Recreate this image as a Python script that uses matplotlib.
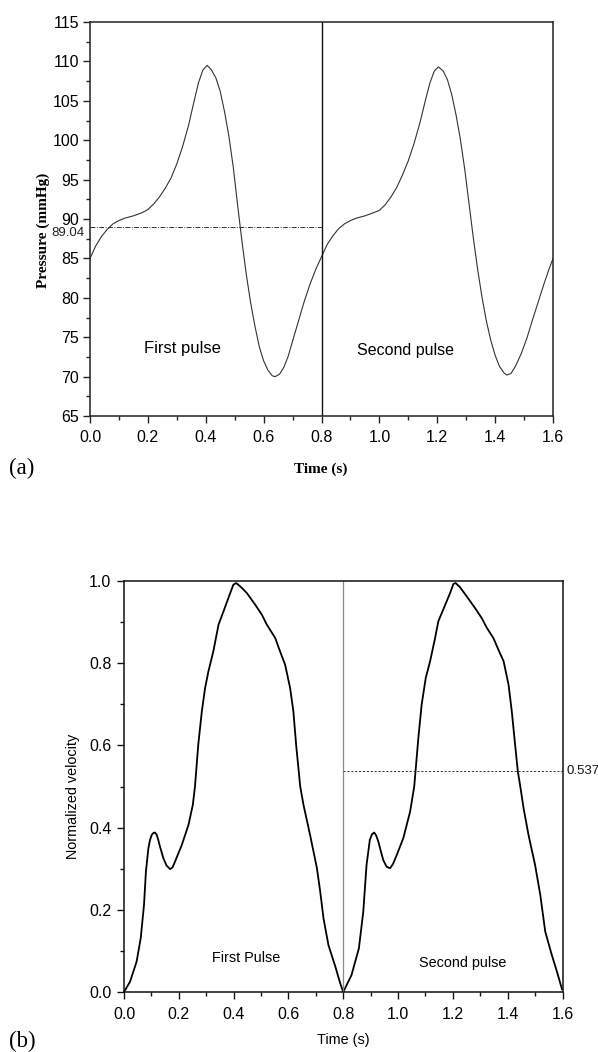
import matplotlib
matplotlib.use("Agg")
import matplotlib.pyplot as plt
from matplotlib import font_manager
from matplotlib.ticker import MultipleLocator, FormatStrFormatter
import matplotlib.transforms as mtransforms

# ---------------- DATA ----------------
# (a) pressure waveform, first and second pulse
press_t1 = [0.000, 0.020, 0.040, 0.060, 0.080, 0.100, 0.120, 0.150, 0.180, 0.200,
            0.220, 0.240, 0.260, 0.280, 0.300, 0.320, 0.340, 0.360, 0.375, 0.390,
            0.405, 0.420, 0.435, 0.450, 0.465, 0.480, 0.495, 0.510, 0.525, 0.540,
            0.555, 0.570, 0.585, 0.600, 0.615, 0.630, 0.640, 0.655, 0.670, 0.685,
            0.700, 0.720, 0.740, 0.760, 0.780, 0.800]
press_p1 = [85.0, 86.6, 87.8, 88.7, 89.4, 89.8, 90.1, 90.4, 90.8, 91.2,
            91.9, 92.8, 93.9, 95.2, 97.0, 99.2, 101.8, 105.0, 107.3, 108.9,
            109.5, 108.9, 107.9, 106.2, 103.6, 100.5, 96.6, 91.8, 87.2, 83.0,
            79.4, 76.4, 73.8, 72.0, 70.8, 70.1, 70.0, 70.3, 71.2, 72.6,
            74.5, 77.0, 79.5, 81.7, 83.6, 85.2]
press_t2 = [0.800, 0.820, 0.840, 0.860, 0.880, 0.900, 0.920, 0.950, 0.980, 1.000,
            1.020, 1.040, 1.060, 1.080, 1.100, 1.120, 1.140, 1.160, 1.175, 1.190,
            1.204, 1.220, 1.235, 1.250, 1.265, 1.280, 1.295, 1.310, 1.325, 1.340,
            1.355, 1.370, 1.385, 1.400, 1.415, 1.430, 1.440, 1.455, 1.470, 1.490,
            1.510, 1.530, 1.550, 1.570, 1.585, 1.600]
press_p2 = [85.2, 86.8, 87.9, 88.8, 89.4, 89.8, 90.1, 90.4, 90.8, 91.1,
            91.8, 92.8, 94.0, 95.6, 97.4, 99.6, 102.2, 105.2, 107.3, 108.8,
            109.3, 108.8, 107.7, 105.8, 103.2, 100.1, 96.3, 91.9, 87.5, 83.5,
            80.0, 77.0, 74.6, 72.7, 71.3, 70.5, 70.2, 70.4, 71.3, 72.9,
            74.9, 77.3, 79.6, 81.9, 83.5, 85.0]
press_mean = 89.04

# (b) normalized velocity waveform
vel_t1 = [0.000, 0.022, 0.046, 0.061, 0.073, 0.080, 0.089, 0.095, 0.101, 0.107,
          0.113, 0.119, 0.125, 0.132, 0.144, 0.155, 0.168, 0.177, 0.186, 0.211,
          0.235, 0.251, 0.259, 0.271, 0.284, 0.296, 0.308, 0.326, 0.345, 0.363,
          0.381, 0.399, 0.409, 0.424, 0.448, 0.479, 0.503, 0.521, 0.552, 0.567,
          0.588, 0.606, 0.618, 0.628, 0.643, 0.655, 0.679, 0.704, 0.716, 0.728,
          0.746, 0.771, 0.789, 0.800]
vel_v1 = [0.000, 0.025, 0.074, 0.131, 0.212, 0.293, 0.350, 0.370, 0.382, 0.387,
          0.388, 0.383, 0.370, 0.352, 0.325, 0.308, 0.299, 0.303, 0.317, 0.358,
          0.406, 0.455, 0.500, 0.602, 0.683, 0.740, 0.780, 0.829, 0.894, 0.926,
          0.959, 0.991, 0.995, 0.987, 0.971, 0.942, 0.918, 0.894, 0.861, 0.833,
          0.796, 0.740, 0.683, 0.602, 0.500, 0.455, 0.382, 0.301, 0.244, 0.179,
          0.114, 0.062, 0.021, 0.000]
vel_t2 = [0.800, 0.830, 0.857, 0.873, 0.885, 0.897, 0.905, 0.913, 0.920, 0.928,
          0.937, 0.946, 0.958, 0.971, 0.982, 0.995, 1.019, 1.044, 1.059, 1.074,
          1.086, 1.101, 1.117, 1.135, 1.147, 1.172, 1.190, 1.202, 1.210, 1.226,
          1.250, 1.281, 1.305, 1.324, 1.348, 1.366, 1.385, 1.403, 1.415, 1.427,
          1.437, 1.446, 1.458, 1.476, 1.500, 1.519, 1.537, 1.561, 1.580, 1.598]
vel_v2 = [0.000, 0.041, 0.106, 0.195, 0.309, 0.370, 0.384, 0.388, 0.381, 0.366,
          0.343, 0.321, 0.305, 0.301, 0.312, 0.333, 0.374, 0.439, 0.500, 0.618,
          0.699, 0.764, 0.805, 0.861, 0.902, 0.942, 0.971, 0.993, 0.995, 0.985,
          0.963, 0.934, 0.910, 0.886, 0.861, 0.833, 0.805, 0.748, 0.683, 0.602,
          0.537, 0.500, 0.447, 0.382, 0.309, 0.236, 0.147, 0.090, 0.049, 0.007]
vel_level = 0.537

pulse_split = 0.8
press_yticks = list(range(65, 116, 5))
vel_yticks = [0.0, 0.2, 0.4, 0.6, 0.8, 1.0]
time_xticks = [0.0, 0.2, 0.4, 0.6, 0.8, 1.0, 1.2, 1.4, 1.6]

# ---------------- FONTS ----------------
names = {f.name for f in font_manager.fontManager.ttflist}
SANS = "Liberation Sans" if "Liberation Sans" in names else "DejaVu Sans"
SERIF = "Liberation Serif" if "Liberation Serif" in names else "DejaVu Serif"
if "Liberation Sans Narrow" in names:
    NARROW, nscale = "Liberation Sans Narrow", 1.0
else:
    NARROW, nscale = SANS, 0.9
plt.rcParams["font.family"] = SANS
plt.rcParams["lines.solid_joinstyle"] = "round"

W, H = 598, 1052
fig = plt.figure(figsize=(W / 100, H / 100), dpi=100)

def frac_axes(l, r, t, b):
    return fig.add_axes([l / W, 1 - b / H, (r - l) / W, (b - t) / H])

def style_axes(ax, lw, col):
    for s in ax.spines.values():
        s.set_linewidth(lw)
        s.set_color(col)
    ax.tick_params(which="both", direction="out", top=False, right=False,
                   color=col, width=lw * 0.9)
    ax.tick_params(which="major", length=5)
    ax.tick_params(which="minor", length=2.6)

# ---------------- (a) ----------------
ax1 = frac_axes(90, 553, 22, 416)
ax1.plot(press_t1, press_p1, color="#333333", lw=0.8)
ax1.plot(press_t2, press_p2, color="#333333", lw=0.8)
ax1.axvline(pulse_split, color="#111111", lw=1.0)
ax1.plot([0, pulse_split], [press_mean, press_mean], color="#333333", lw=0.7,
         linestyle=(0, (5, 1.5, 1, 1.5)))
ax1.set_xlim(0, 1.6)
ax1.set_ylim(65, 115)
ax1.set_xticks(time_xticks)
ax1.set_yticks(press_yticks)
ax1.xaxis.set_minor_locator(MultipleLocator(0.1))
ax1.yaxis.set_minor_locator(MultipleLocator(2.5))
ax1.xaxis.set_major_formatter(FormatStrFormatter("%.1f"))
style_axes(ax1, 1.1, "#222222")
ax1.tick_params(which="major", labelsize=11.5, pad=3)
ax1.tick_params(axis="x", which="major", pad=5)
ax1.set_ylabel("Pressure (mmHg)", family=SERIF, fontweight="bold", fontsize=11)
ax1.yaxis.set_label_coords(-0.087, 0.472)
ax1.set_xlabel("Time (s)", family=SERIF, fontweight="bold", fontsize=11)
ax1.xaxis.set_label_coords(0.498, -0.117)
tr1 = mtransforms.blended_transform_factory(ax1.transAxes, ax1.transData)
ax1.text(-0.011, press_mean, "89.04", transform=tr1, ha="right", va="top",
         fontsize=9.5, color="#222222")
ax1.text(0.32, 73.6, "First pulse", ha="center", va="center", fontsize=12)
ax1.text(1.089, 73.3, "Second pulse", ha="center", va="center", fontsize=11.5)
fig.text(9 / W, 1 - 468 / H, "(a)", family=SERIF, fontsize=16.5,
         ha="left", va="center")

# ---------------- (b) ----------------
ax2 = frac_axes(124, 562.5, 581, 992)
ax2.plot(vel_t1, vel_v1, color="black", lw=1.3)
ax2.plot(vel_t2, vel_v2, color="black", lw=1.3)
ax2.axvline(pulse_split, color="#8a8a8a", lw=0.9)
ax2.plot([pulse_split, 1.6], [vel_level, vel_level], color="#333333", lw=0.7,
         linestyle=(0, (2.2, 1.8)))
ax2.set_xlim(0, 1.6)
ax2.set_ylim(0, 1.0)
ax2.set_xticks(time_xticks)
ax2.set_yticks(vel_yticks)
ax2.xaxis.set_minor_locator(MultipleLocator(0.1))
ax2.yaxis.set_minor_locator(MultipleLocator(0.1))
ax2.xaxis.set_major_formatter(FormatStrFormatter("%.1f"))
ax2.yaxis.set_major_formatter(FormatStrFormatter("%.1f"))
style_axes(ax2, 1.1, "#111111")
ax2.tick_params(which="major", labelsize=11.5, pad=4)
ax2.tick_params(axis="x", which="major", pad=6)
ax2.set_ylabel("Normalized velocity", family=NARROW, fontsize=11.5 * nscale)
ax2.yaxis.set_label_coords(-0.100, 0.476)
ax2.set_xlabel("Time (s)", family=NARROW, fontsize=11.5 * nscale)
ax2.xaxis.set_label_coords(0.5, -0.100)
tr2 = mtransforms.blended_transform_factory(ax2.transAxes, ax2.transData)
ax2.text(1.01, vel_level, "0.537", transform=tr2, ha="left", va="center",
         fontsize=9.5, color="#111111")
ax2.text(0.444, 0.083, "First Pulse", ha="center", va="center",
         family=NARROW, fontsize=11.5 * nscale)
ax2.text(1.237, 0.071, "Second pulse", ha="center", va="center",
         family=NARROW, fontsize=11.5 * nscale)
fig.text(9 / W, 1 - 1041 / H, "(b)", family=SERIF, fontsize=16.5,
         ha="left", va="center")

fig.savefig("out.png", dpi=100)
